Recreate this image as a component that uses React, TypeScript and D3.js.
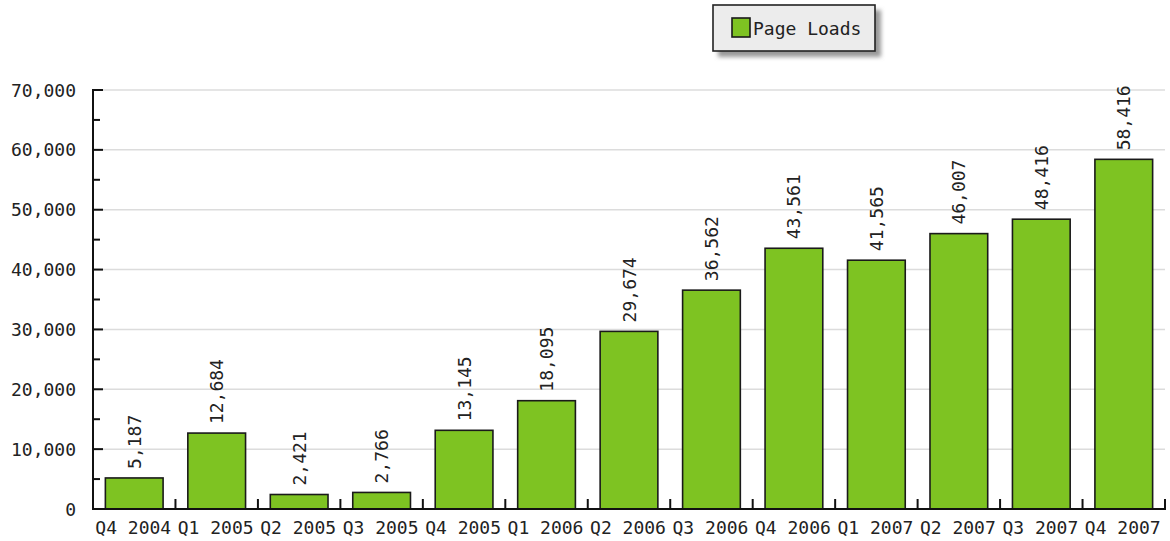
import React from "react";
import * as d3 from "d3";

const categories = [
  "Q4 2004", "Q1 2005", "Q2 2005", "Q3 2005", "Q4 2005", "Q1 2006", "Q2 2006",
  "Q3 2006", "Q4 2006", "Q1 2007", "Q2 2007", "Q3 2007", "Q4 2007",
];
const pageLoads = [5187, 12684, 2421, 2766, 13145, 18095, 29674, 36562, 43561, 41565, 46007, 48416, 58416];
const yMajorTicks = [0, 10000, 20000, 30000, 40000, 50000, 60000, 70000];
const yMinorTicks = [5000, 15000, 25000, 35000, 45000, 55000, 65000];
const seriesName = "Page Loads";

const W = 1170;
const H = 541;
const FONT = "'DejaVu Sans Mono', monospace";
const GREEN = "#7ec322";

export default function App() {
  const x = d3.scaleBand<string>().domain(categories).range([93, 1165]).paddingInner(0.3).paddingOuter(0.15);
  const xb = d3.scaleBand<string>().domain(categories).range([93, 1165]);
  const y = d3.scaleLinear().domain([0, 70000]).range([509, 90]);
  const fmt = d3.format(",");
  const x0 = 93;
  const x1 = 1165;

  return (
    <svg width={W} height={H} style={{ position: "absolute", left: 0, top: 0, background: "#fff" }}>
      <defs>
        <filter id="blur" x="-20%" y="-20%" width="140%" height="140%">
          <feGaussianBlur stdDeviation="2" />
        </filter>
      </defs>
      {/* gridlines */}
      {yMajorTicks.filter((t) => t > 0).map((t) => (
        <line key={"g" + t} x1={x0} x2={x1} y1={y(t)} y2={y(t)} stroke="#dcdcdc" strokeWidth={1.5} />
      ))}
      {/* bars */}
      {pageLoads.map((v, i) => (
        <rect key={"b" + i} x={x(categories[i])!} y={y(v)} width={x.bandwidth()} height={y(0) - y(v)}
          fill={GREEN} stroke="#1a1a1a" strokeWidth={1.6} />
      ))}
      {/* value labels */}
      {pageLoads.map((v, i) => {
        const cx = x(categories[i])! + x.bandwidth() / 2;
        const ty = y(v) - 9;
        return (
          <text key={"v" + i} transform={`translate(${cx},${ty}) rotate(-90)`} fontFamily={FONT} fontSize={18}
            fill="#222" textAnchor="start" dominantBaseline="central">
            {fmt(v)}
          </text>
        );
      })}
      {/* axes */}
      <line x1={x0} x2={x0} y1={y(70000) - 1} y2={y(0) + 1} stroke="#111" strokeWidth={2} />
      <line x1={x0 - 1} x2={x1 + 1} y1={y(0)} y2={y(0)} stroke="#111" strokeWidth={2} />
      {yMajorTicks.map((t) => (
        <line key={"mt" + t} x1={x0} x2={x0 + 10} y1={y(t)} y2={y(t)} stroke="#111" strokeWidth={2} />
      ))}
      {yMinorTicks.map((t) => (
        <line key={"mn" + t} x1={x0} x2={x0 + 7} y1={y(t)} y2={y(t)} stroke="#111" strokeWidth={2} />
      ))}
      {yMajorTicks.map((t) => (
        <text key={"yl" + t} x={76} y={y(t)} textAnchor="end" dominantBaseline="central" fontFamily={FONT}
          fontSize={18} fill="#222">
          {fmt(t)}
        </text>
      ))}
      {categories.map((c, i) => (
        <line key={"xt" + i} x1={xb(c)! + xb.bandwidth()} x2={xb(c)! + xb.bandwidth()} y1={y(0)} y2={y(0) - 10}
          stroke="#111" strokeWidth={2} />
      ))}
      {categories.map((c) => (
        <text key={"xl" + c} x={xb(c)! + xb.bandwidth() / 2 - 1} y={534} textAnchor="middle" fontFamily={FONT}
          fontSize={18} fill="#222">
          {c}
        </text>
      ))}
      {/* legend */}
      <rect x={718} y={10} width={163} height={47} fill="#999" filter="url(#blur)" />
      <rect x={713} y={5} width={162} height={46} fill="#ececec" stroke="#222" strokeWidth={1.6} />
      <rect x={732} y={18} width={18} height={19} fill={GREEN} stroke="#1a1a1a" strokeWidth={1.6} />
      <text x={753} y={35} fontFamily={FONT} fontSize={18} fill="#222">{seriesName}</text>
    </svg>
  );
}
